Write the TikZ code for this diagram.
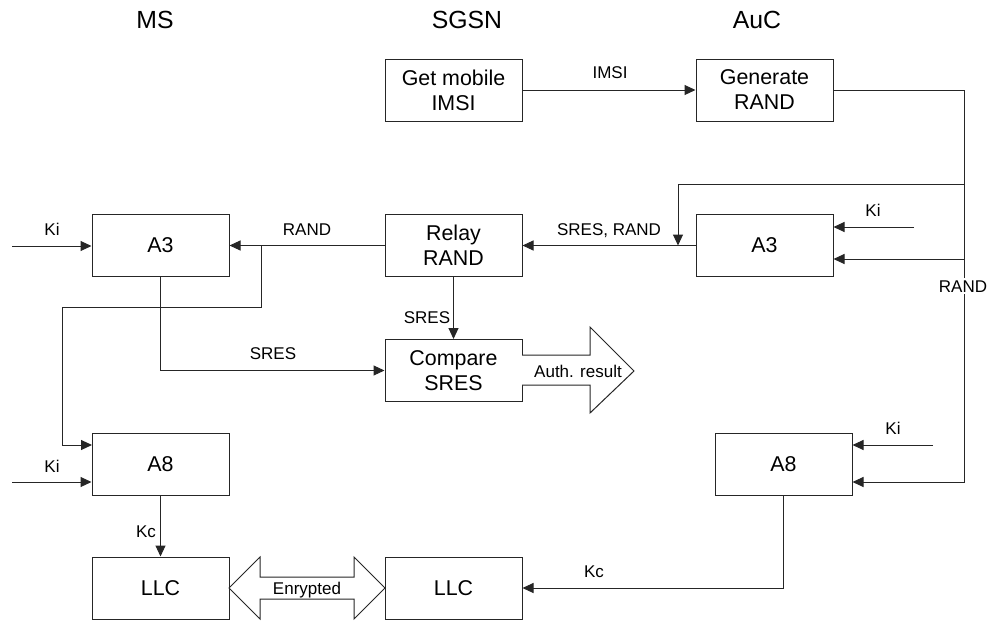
\documentclass[tikz,border=0pt]{standalone}
\usepackage{fontspec}
\setmainfont{Liberation Sans}
\usetikzlibrary{arrows.meta}
\tikzset{
  box/.style={draw=black!85, line width=0.5pt, minimum width=68.5pt, minimum height=31pt,
    inner sep=0pt, align=center, font=\fontsize{10.7}{12.5}\selectfont},
  lbl/.style={inner sep=0pt, anchor=base, font=\fontsize{8.5}{10}\selectfont},
  hdr/.style={inner sep=0pt, anchor=base, font=\fontsize{12.4}{14}\selectfont},
  wire/.style={draw=black!85, line width=0.5pt},
  flow/.style={wire, -{Triangle[length=5.5pt,width=5pt]}},
  fat/.style={draw=black!85, line width=0.5pt, fill=white},
}
\begin{document}
\begin{tikzpicture}[x=0.5pt,y=-0.5pt]
  \useasboundingbox (0,0) rectangle (990,621);
  % column titles
  \foreach \name/\x in {MS/155, SGSN/467, AuC/757}
    \node[hdr] (h\name) at (\x,28) {\name};
  % boxes
  \node[box] (getimsi) at (453.5,90) {Get mobile\\IMSI};
  \node[box] (genrand) at (764.5,90) {Generate\\RAND};
  \node[box] (a3ms) at (160.5,245.5) {A3};
  \node[box] (relay) at (453.5,245.5) {Relay\\RAND};
  \node[box] (a3auc) at (764.5,245.5) {A3};
  \node[box] (compare) at (453.5,370.5) {Compare\\SRES};
  \node[box] (a8ms) at (160.5,464) {A8};
  \node[box] (a8auc) at (783.5,464) {A8};
  \node[box] (llcms) at (160.5,588) {LLC};
  \node[box] (llcsgsn) at (453.5,588) {LLC};
  % free ends and bends
  \coordinate (rsplit) at (964,184);
  \coordinate (rdrop) at (678,184);
  \coordinate (rin) at (964,259);
  \coordinate (rbot) at (964,482);
  \coordinate (kib3) at (914,227);
  \coordinate (kib8) at (933,445);
  \coordinate (kia3) at (12,246);
  \coordinate (kia8) at (12,482);
  \coordinate (ltap) at (261,246);
  \coordinate (lbend) at (62,307);
  \coordinate (a8top) at (92,445);
  % IMSI and RAND from the AuC
  \draw[flow] (getimsi.east) -- (genrand.west);
  \draw[flow] (genrand.east) -| (rbot) -- (rbot -| a8auc.east);
  \draw[flow] (rsplit) -| (rdrop |- a3auc.west);
  \draw[flow] (rin) -- (rin -| a3auc.east);
  \draw[flow] (kib3) -- (kib3 -| a3auc.east);
  \draw[flow] (kib8) -- (kib8 -| a8auc.east);
  % SGSN to MS
  \draw[flow] (a3auc.west) -- (relay.east);
  \draw[flow] (relay.west) -- (a3ms.east);
  \draw[flow] (relay.south) -- (compare.north);
  \draw[flow] (kia3) -- (kia3 -| a3ms.west);
  \draw[flow] (ltap) |- (lbend) |- (a8top);
  \draw[flow] (a3ms.south) |- (compare.west);
  \draw[flow] (kia8) -- (kia8 -| a8ms.west);
  % cipher keys
  \draw[flow] (a8ms.south) -- (llcms.north);
  \draw[flow] (a8auc.south) |- (llcsgsn.east);
  % block arrows
  \draw[fat] (522,355) -- (590,355) -- (590,327) -- (634,371) -- (590,413) -- (590,385) -- (522,385);
  \draw[fat] (260,577) -- (260,557) -- (229,588) -- (260,619) -- (260,599) -- (354,599)
    -- (354,619) -- (385,588) -- (354,557) -- (354,577) -- cycle;
  % labels
  \node[lbl] (limsi) at (610,78) {IMSI};
  \node[lbl, fill=white, inner sep=1pt] (lrand) at (963,292) {RAND};
  \node[lbl] (lkib3) at (873,216) {Ki};
  \node[lbl] (lkib8) at (893,434) {Ki};
  \node[lbl] (lsresrand) at (609,235) {SRES, RAND};
  \node[lbl] (lrandms) at (307,235) {RAND};
  \node[lbl] (lkia3) at (52,235) {Ki};
  \node[lbl] (lkia8) at (52,472) {Ki};
  \node[lbl] (lsres) at (427,323) {SRES};
  \node[lbl] (lsresms) at (273,359) {SRES};
  \node[lbl] (lkcms) at (146,537) {Kc};
  \node[lbl] (lkcsgsn) at (594,577) {Kc};
  \node[lbl] (lauth) at (578,377) {Auth. result};
  \node[lbl] (lenc) at (307,594) {Enrypted};
\end{tikzpicture}
\end{document}
